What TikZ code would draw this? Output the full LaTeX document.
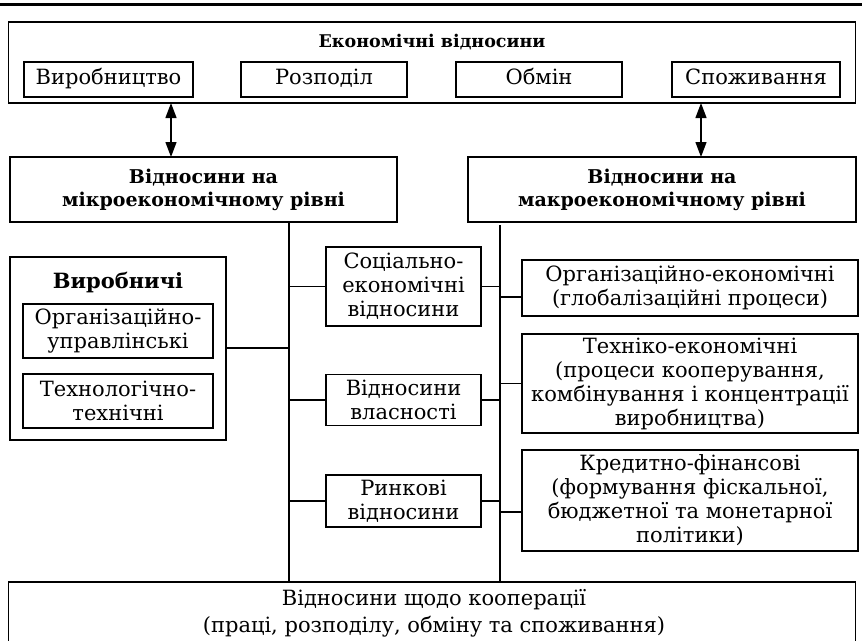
\documentclass[tikz,border=0pt]{standalone}
\usepackage{fontspec}
\usetikzlibrary{arrows.meta}
\setmainfont{DejaVu Serif}
\tikzset{
  every node/.style={inner sep=0pt, outer sep=0pt},
  box/.style={draw, line width=1.3pt, align=center},
  tbox/.style={box, font=\fontsize{21}{24}\selectfont},
  rowbox/.style={tbox, minimum height=35pt, text height=15pt, text depth=5pt},
  hbox/.style={box, font=\bfseries\fontsize{19}{23}\selectfont},
  link/.style={line width=1.3pt},
  dbl/.style={line width=1.3pt, {Triangle[length=15pt,width=11pt]}-{Triangle[length=15pt,width=11pt]}}
}
\begin{document}
\begin{tikzpicture}[x=1pt,y=-1pt]
\useasboundingbox (0,0) rectangle (862,640);
% heading rule
\draw[line width=3pt] (0,4) -- (862,4);

% general block
\node[box, minimum width=847pt, minimum height=81pt] (econ) at (432,62.5) {};
\node[font=\bfseries\fontsize{17.5}{21}\selectfont] (econt) at (432,42) {Економічні відносини};
\node[rowbox, minimum width=169pt] (vyr) at (108.5,79.5) {Виробництво};
\node[rowbox, minimum width=166pt] (rozp) at (324,79.5) {Розподіл};
\node[rowbox, minimum width=166pt] (obm) at (539,79.5) {Обмін};
\node[rowbox, minimum width=168pt] (spoz) at (756,79.5) {Споживання};

% levels
\node[hbox, minimum width=387pt, minimum height=65pt] (micro) at (203.5,189.5) {Відносини на\\мікроекономічному рівні};
\node[hbox, minimum width=388pt, minimum height=65pt] (macro) at (662,189.5) {Відносини на\\макроекономічному рівні};
\draw[dbl] (econ.south -| 171,0) -- (micro.north -| 171,0);
\draw[dbl] (econ.south -| 701,0) -- (macro.north -| 701,0);

% bottom block
\node[box, minimum width=847pt, minimum height=90pt, anchor=north] (coop) at (432,582) {};
\node[font=\fontsize{21}{27}\selectfont, align=center] (coopt) at (434,613.5) {Відносини щодо кооперації\\(праці, розподілу, обміну та споживання)};

% trunks
\coordinate (ltop) at (289,222);
\coordinate (rtop) at (500,225);
\draw[link] (ltop) -- (ltop |- coop.north);
\draw[link] (rtop) -- (rtop |- coop.north);

% production group
\node[box, minimum width=216pt, minimum height=183pt] (prod) at (118,348.5) {};
\node[font=\bfseries\fontsize{21}{24}\selectfont] (prodt) at (118,283) {Виробничі};
\node[tbox, minimum width=190pt, minimum height=54pt] (org) at (118,331) {Організаційно-\\управлінські};
\node[tbox, minimum width=190pt, minimum height=54pt] (tech) at (118,401) {Технологічно-\\технічні};
\draw[link] (prod.east |- 0,348) -- (ltop |- 0,348);

% middle column
\node[tbox, minimum width=155pt, minimum height=79pt] (soc) at (403.5,286.5) {Соціально-\\економічні\\відносини};
\node[tbox, minimum width=155pt, minimum height=51pt] (vlas) at (403.5,400) {Відносини\\власності};
\node[tbox, minimum width=155pt, minimum height=52pt] (rynk) at (403.5,501) {Ринкові\\відносини};
\draw[link] (ltop |- soc.west) -- (soc.west);
\draw[link] (soc.east) -- (rtop |- soc.east);
\draw[link] (ltop |- vlas.west) -- (vlas.west);
\draw[link] (vlas.east) -- (rtop |- vlas.east);
\draw[link] (ltop |- rynk.west) -- (rynk.west);
\draw[link] (rynk.east) -- (rtop |- rynk.east);

% right column
\node[tbox, minimum width=336pt, minimum height=56pt] (orgek) at (690,288) {Організаційно-економічні\\(глобалізаційні процеси)};
\node[tbox, minimum width=336pt, minimum height=99pt] (tehek) at (690,383.5) {Техніко-економічні\\(процеси кооперування,\\комбінування і концентрації\\виробництва)};
\node[tbox, minimum width=336pt, minimum height=101pt] (kred) at (690,500.5) {Кредитно-фінансові\\(формування фіскальної,\\бюджетної та монетарної\\політики)};
\draw[link] (rtop |- 0,297) -- (orgek.west |- 0,297);
\draw[link] (rtop |- tehek.west) -- (tehek.west);
\draw[link] (rtop |- 0,512) -- (kred.west |- 0,512);
\end{tikzpicture}
\end{document}
